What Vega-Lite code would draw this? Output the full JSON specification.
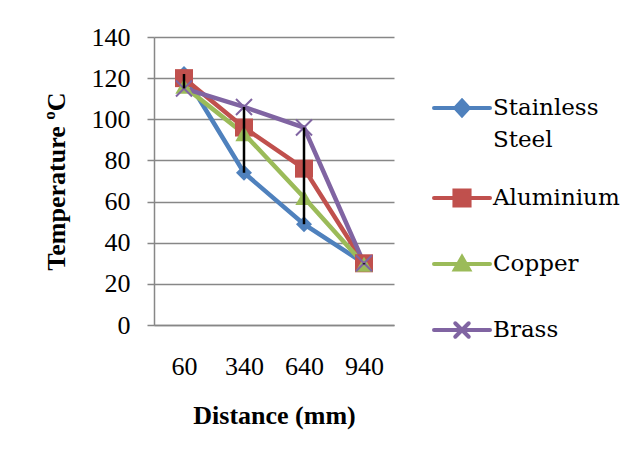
{
  "$schema": "https://vega.github.io/schema/vega-lite/v6.json",
  "width": 240,
  "height": 288,
  "autosize": {"type": "none"},
  "padding": {"left": 154, "top": 37, "right": 240, "bottom": 132},
  "background": "white",
  "config": {
    "view": {"stroke": null},
    "font": "Liberation Serif"
  },
  "data": {
    "values": [
      {"distance": "60", "material": "Stainless Steel", "temp": 122},
      {"distance": "340", "material": "Stainless Steel", "temp": 74},
      {"distance": "640", "material": "Stainless Steel", "temp": 49},
      {"distance": "940", "material": "Stainless Steel", "temp": 30},
      {"distance": "60", "material": "Aluminium", "temp": 120},
      {"distance": "340", "material": "Aluminium", "temp": 96},
      {"distance": "640", "material": "Aluminium", "temp": 76},
      {"distance": "940", "material": "Aluminium", "temp": 30},
      {"distance": "60", "material": "Copper", "temp": 116},
      {"distance": "340", "material": "Copper", "temp": 93},
      {"distance": "640", "material": "Copper", "temp": 62},
      {"distance": "940", "material": "Copper", "temp": 29.5},
      {"distance": "60", "material": "Brass", "temp": 115},
      {"distance": "340", "material": "Brass", "temp": 106},
      {"distance": "640", "material": "Brass", "temp": 96},
      {"distance": "940", "material": "Brass", "temp": 30}
    ]
  },
  "encoding": {
    "x": {
      "field": "distance",
      "type": "ordinal",
      "sort": ["60", "340", "640", "940"],
      "scale": {"type": "point", "padding": 0.5},
      "axis": {
        "title": "Distance (mm)",
        "labelAngle": 0,
        "ticks": false,
        "labelPadding": 28,
        "labelFont": "Liberation Serif",
        "labelFontSize": 26,
        "labelColor": "black",
        "titleFont": "Liberation Serif",
        "titleFontSize": 26,
        "titleFontWeight": "bold",
        "titleColor": "black",
        "titlePadding": 23,
        "domainColor": "#878787",
        "domainWidth": 1.5,
        "grid": false
      }
    },
    "y": {
      "field": "temp",
      "type": "quantitative",
      "scale": {"domain": [0, 140]},
      "axis": {
        "title": "Temperature ºC",
        "values": [0, 20, 40, 60, 80, 100, 120, 140],
        "tickSize": 7,
        "tickColor": "#878787",
        "tickWidth": 1.5,
        "labelPadding": 17,
        "labelFont": "Liberation Serif",
        "labelFontSize": 26,
        "labelColor": "black",
        "titleFont": "Liberation Serif",
        "titleFontSize": 26,
        "titleFontWeight": "bold",
        "titleColor": "black",
        "titlePadding": 22,
        "domainColor": "#878787",
        "domainWidth": 1.5,
        "gridColor": "#878787",
        "gridWidth": 1.3
      }
    }
  },
  "layer": [
    {
      "mark": {"type": "line", "strokeWidth": 4.5},
      "encoding": {
        "color": {
          "field": "material",
          "type": "nominal",
          "scale": {
            "domain": ["Stainless Steel", "Aluminium", "Copper", "Brass"],
            "range": ["#4F81BD", "#C0504D", "#9BBB59", "#8064A2"]
          },
          "legend": {
            "orient": "none",
            "legendX": 278,
            "legendY": 51,
            "title": null,
            "symbolSize": 3136,
            "symbolStrokeWidth": 4,
            "labelFont": "DejaVu Serif",
            "labelFontSize": 23,
            "labelColor": "black",
            "labelOffset": 1,
            "labelLimit": 300,
            "rowPadding": 26,
            "clipHeight": 40,
            "labelExpr": "datum.label === 'Stainless Steel' ? ['Stainless', 'Steel'] : datum.label",
            "encode": {
              "symbols": {
                "update": {
                  "shape": {"signal": "datum.value === 'Stainless Steel' ? 'M-1,0L1,0M0,-0.26L0.24,0L0,0.26L-0.24,0Z' : datum.value === 'Aluminium' ? 'M-1,0L1,0M-0.27,-0.27L0.27,-0.27L0.27,0.27L-0.27,0.27Z' : datum.value === 'Copper' ? 'M-1,0L1,0M0,-0.24L0.25,0.2L-0.25,0.2Z' : 'M-1,0L1,0M-0.24,-0.24L0.24,0.24M-0.24,0.24L0.24,-0.24'"},
                  "fill": {"signal": "scale('color', datum.value)"},
                  "stroke": {"signal": "scale('color', datum.value)"},
                  "strokeWidth": {"value": 4},
                  "strokeCap": {"value": "round"},
                  "opacity": {"value": 1}
                }
              },
              "labels": {
                "update": {"lineHeight": {"value": 32}}
              }
            }
          }
        }
      }
    },
    {
      "transform": [{"filter": "datum.material === 'Stainless Steel'"}],
      "mark": {"type": "point", "shape": "diamond", "size": 256, "filled": true, "color": "#4F81BD", "opacity": 1}
    },
    {
      "transform": [{"filter": "datum.material === 'Aluminium'"}],
      "mark": {"type": "point", "shape": "square", "size": 324, "filled": true, "color": "#C0504D", "opacity": 1}
    },
    {
      "transform": [{"filter": "datum.material === 'Copper'"}],
      "mark": {"type": "point", "shape": "triangle-up", "size": 300, "filled": true, "color": "#9BBB59", "opacity": 1}
    },
    {
      "transform": [{"filter": "datum.material === 'Brass'"}],
      "mark": {"type": "point", "shape": "M-1,-1L1,1M-1,1L1,-1", "size": 256, "filled": false, "color": "#8064A2", "strokeWidth": 2, "opacity": 1}
    },
    {
      "mark": {"type": "rule", "color": "black", "strokeWidth": 2.5},
      "encoding": {
        "y": {"aggregate": "min", "field": "temp", "type": "quantitative"},
        "y2": {"aggregate": "max", "field": "temp"}
      }
    }
  ]
}
